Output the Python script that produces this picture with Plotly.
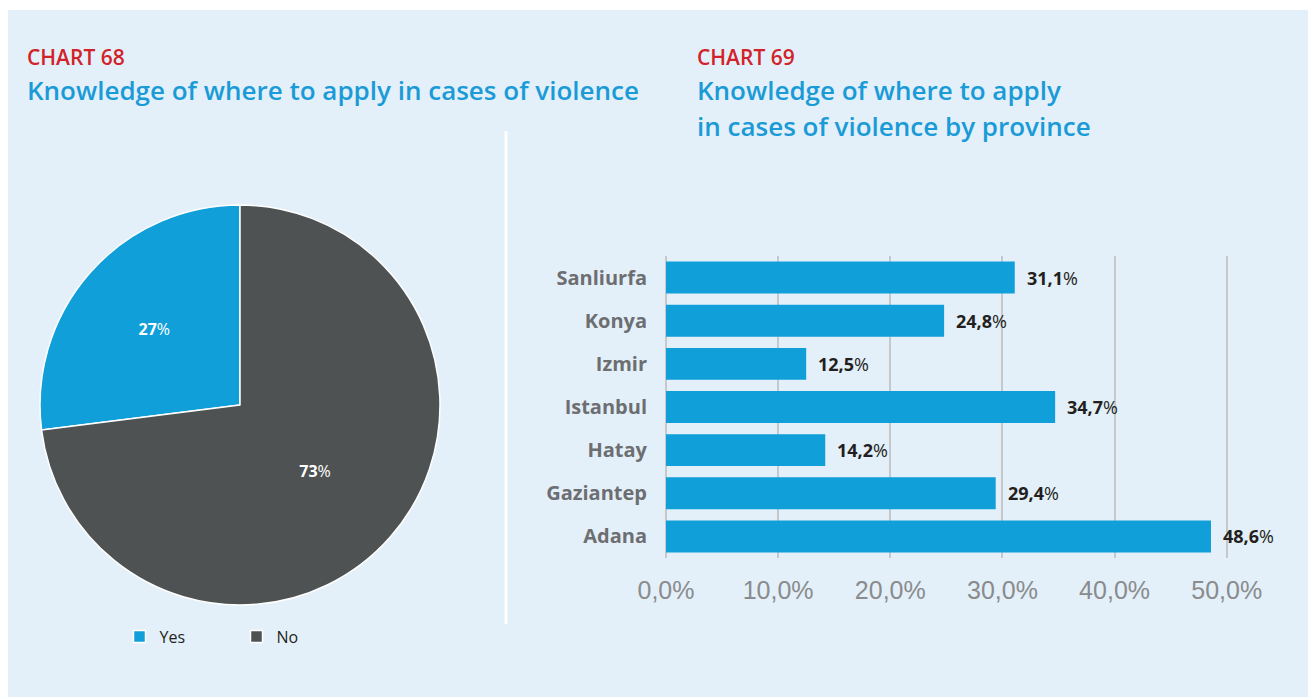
import plotly.graph_objects as go

W, H = 1316, 697
OFF = 8  # page body margin of the browser

# ---- data ----
pie_labels = ["Yes", "No"]
pie_values = [27, 73]

provinces = ["Sanliurfa", "Konya", "Izmir", "Istanbul", "Hatay", "Gaziantep", "Adana"]
province_values = [31.1, 24.8, 12.5, 34.7, 14.2, 29.4, 48.6]

x_tickvals = [0, 10, 20, 30, 40, 50]
x_ticktext = ["0,0%", "10,0%", "20,0%", "30,0%", "40,0%", "50,0%"]

# ---- styling helpers (pixel position in screenshot -> paper fraction) ----
def px(x):
    return (x - OFF) / W

def py(y):
    return 1 - (y - OFF) / H

BLUE = "#119fda"
DARK = "#4f5253"
TITLE_BLUE = "#1a9bd7"
RED = "#d2232a"
PANEL = "#e3f0f9"
FONT = "Open Sans"

# first slice ("Yes") runs from 12 o'clock towards the left
first_slice_deg = 360.0 * pie_values[0] / sum(pie_values)

fig = go.Figure()

fig.add_trace(go.Pie(
    labels=pie_labels,
    values=pie_values,
    sort=False,
    direction="clockwise",
    rotation=-first_slice_deg,
    marker=dict(colors=[BLUE, DARK], line=dict(color="white", width=1.5)),
    texttemplate="<b>%{value}</b>%",
    textposition="inside",
    insidetextorientation="horizontal",
    textfont=dict(family=FONT, size=16, color="white"),
    domain=dict(x=[px(40), px(440)], y=[py(605), py(205)]),
    hoverinfo="label+percent",
    showlegend=True,
))

fig.add_trace(go.Bar(
    y=provinces,
    x=province_values,
    orientation="h",
    marker=dict(color=BLUE, line=dict(width=0)),
    showlegend=False,
    xaxis="x",
    yaxis="y",
))

for name, v in zip(provinces, province_values):
    label = f"{v:.1f}".replace(".", ",")
    fig.add_annotation(
        x=v, y=name, xref="x", yref="y",
        text=f"<b>{label}</b>%",
        showarrow=False, xanchor="left", xshift=10,
        font=dict(family=FONT, size=18, color="#231f20"),
    )

x_end = 50.5
ppu = (1226.7 - 666) / 50.0
fig.update_layout(
    width=W, height=H,
    margin=dict(l=0, r=0, t=0, b=0, autoexpand=False),
    paper_bgcolor="white",
    plot_bgcolor="rgba(0,0,0,0)",
    bargap=0.26,
    xaxis=dict(
        domain=[px(666), px(666 + x_end * ppu)],
        range=[0, x_end],
        tickvals=x_tickvals,
        ticktext=x_ticktext,
        showgrid=True, gridcolor="#c6c8ca", gridwidth=2,
        zeroline=True, zerolinecolor="#c6c8ca", zerolinewidth=2,
        showline=False, automargin=False,
        ticks="outside", ticklen=10, tickcolor="rgba(0,0,0,0)",
        tickfont=dict(family="Liberation Sans", size=25, color="#8a8b8d"),
        fixedrange=True,
    ),
    yaxis=dict(
        domain=[py(558), py(256)],
        autorange="reversed",
        showgrid=False, zeroline=False, showline=False, automargin=False,
        ticks="outside", ticklen=14, tickcolor="rgba(0,0,0,0)",
        tickfont=dict(family=FONT, size=20, color="#6d6e71", weight=700),
        fixedrange=True,
    ),
    legend=dict(
        orientation="h",
        x=px(119.5), y=py(636.5), xanchor="left", yanchor="middle",
        font=dict(family=FONT, size=16, color="#231f20"),
        bgcolor="rgba(0,0,0,0)",
        entrywidth=72,
        itemclick=False,
    ),
    shapes=[
        dict(type="rect", xref="paper", yref="paper",
             x0=px(6), x1=px(1316), y0=py(697), y1=py(10),
             fillcolor=PANEL, line=dict(width=0), layer="below"),
        dict(type="line", xref="paper", yref="paper",
             x0=px(506), x1=px(506), y0=py(624), y1=py(131),
             line=dict(color="white", width=3), layer="below"),
    ],
)

titles = [
    (25, 57, "CHART 68", RED, 21),
    (25, 90, "Knowledge of where to apply in cases of violence", TITLE_BLUE, 26),
    (695, 57, "CHART 69", RED, 21),
    (695, 90, "Knowledge of where to apply", TITLE_BLUE, 26),
    (695, 126, "in cases of violence by province", TITLE_BLUE, 26),
]
for x, y, t, c, s in titles:
    fig.add_annotation(
        x=px(x), y=py(y), xref="paper", yref="paper",
        text=t, showarrow=False, xanchor="left", yanchor="middle",
        font=dict(family=FONT, size=s, color=c, weight=600),
    )

fig.write_html("out.html")
